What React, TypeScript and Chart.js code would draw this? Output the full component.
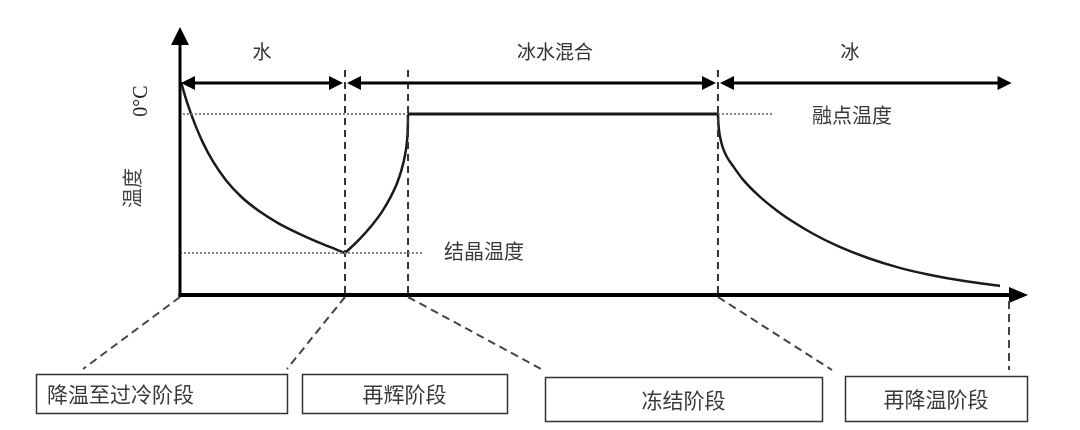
import React, { useEffect, useRef } from "react";
import { Chart, registerables } from "chart.js";
Chart.register(...registerables);

// ---- data (time in arbitrary units, temperature in °C-like units) ----
const coolTime = [0.12, 0.59, 1.18, 1.89, 2.71, 3.89, 5.42, 7.19, 9.32, 11.67, 14.27, 16.86, 19.46];
const coolTemp = [3.45, 1.97, 0.33, -1.39, -3.11, -5.11, -7.14, -8.9, -10.47, -11.82, -13.01, -14.05, -15.0];
const reheatTime = [19.46, 21.18, 22.63, 23.85, 24.81, 25.58, 26.13, 26.52, 26.76, 26.86, 26.89];
const reheatTemp = [-15.0, -13.5, -12.0, -10.5, -9.0, -7.5, -6.0, -4.5, -3.0, -1.5, 0];
const freezeTime = [26.89, 63.44];
const freezeTemp = [0, 0];
const recoolTime = [63.44, 63.48, 63.56, 63.74, 64.03, 64.5, 65.21, 66.39, 68.4, 70.52, 72.29, 74.65, 77.59, 81.13, 84.67, 88.21, 92.33, 96.7];
const recoolTemp = [0, -0.86, -1.73, -2.7, -3.67, -4.64, -5.61, -7.08, -8.94, -10.51, -11.63, -12.92, -14.26, -15.54, -16.55, -17.31, -18.0, -18.55];

const phaseBounds = [19.46, 26.89, 63.44];
const meltTemp = 0;
const crystTemp = -15;
const meltLineSpans = [[0.35, 26.89], [63.44, 69.9]];
const crystLineSpan = [0, 28.66];
const dividerTop = 4.75;
const timeMin = 0;
const timeMax = 100;
const tempMin = -19.53;
const tempMax = 9.39;
const arrowEndTime = 98.3;
const lastTickTime = 97.76;

const phaseLabels = ["水", "冰水混合", "冰"];
const stageLabels = ["降温至过冷阶段", "再辉阶段", "冻结阶段", "再降温阶段"];
const refLabels = ["融点温度", "结晶温度"];
const axisLabels = ["0°C", "温度"];

const pts = (xs: number[], ys: number[]) => xs.map((x, i) => ({ x, y: ys[i] }));

const CJK = '"Noto Sans CJK SC", "Noto Sans", sans-serif';

const decor = {
  id: "decor",
  afterDatasetsDraw(chart: any) {
    const ctx: CanvasRenderingContext2D = chart.ctx;
    const xs = chart.scales.x;
    const ys = chart.scales.y;
    const X = (v: number) => xs.getPixelForValue(v);
    const Y = (v: number) => ys.getPixelForValue(v);
    const x0 = X(timeMin);
    const xR = X(timeMax);
    const yB = Y(tempMin);
    const yT = Y(tempMax);

    const line = (a: number, b: number, c: number, d: number) => {
      ctx.beginPath();
      ctx.moveTo(a, b);
      ctx.lineTo(c, d);
      ctx.stroke();
    };
    const tri = (p: number[][]) => {
      ctx.beginPath();
      ctx.moveTo(p[0][0], p[0][1]);
      ctx.lineTo(p[1][0], p[1][1]);
      ctx.lineTo(p[2][0], p[2][1]);
      ctx.closePath();
      ctx.fill();
    };

    ctx.save();
    ctx.strokeStyle = "#000";
    ctx.fillStyle = "#000";
    ctx.setLineDash([]);
    // y axis
    ctx.lineWidth = 3;
    line(x0, yB + 2, x0, yT + 16);
    tri([[x0, yT], [x0 - 9, yT + 18], [x0 + 9, yT + 18]]);
    // x axis
    ctx.lineWidth = 4;
    line(x0 - 1.5, yB, xR - 16, yB);
    tri([[xR, yB], [xR - 19, yB - 8], [xR - 19, yB + 8]]);

    // top phase arrows
    const ay = 83;
    const segs = [
      [x0, X(phaseBounds[0])],
      [X(phaseBounds[0]), X(phaseBounds[2])],
      [X(phaseBounds[2]), X(arrowEndTime)],
    ];
    ctx.lineWidth = 3;
    segs.forEach(([a, b], i) => {
      const l = i === 0 ? a + 1 : a + 2;
      const r = b - 2;
      line(l + 10, ay, r - 10, ay);
      tri([[l, ay], [l + 14, ay - 7], [l + 14, ay + 7]]);
      tri([[r, ay], [r - 14, ay - 7], [r - 14, ay + 7]]);
    });

    // bottom connectors
    ctx.strokeStyle = "#444";
    ctx.lineWidth = 2;
    ctx.setLineDash([8, 5]);
    const by = yB + 2;
    line(x0, by, 83, 369);
    line(X(phaseBounds[0]), by, 287, 369);
    line(X(phaseBounds[1]), by, 543, 370);
    line(X(phaseBounds[2]), by, 832, 370);
    line(X(lastTickTime), yB + 6, X(lastTickTime), 370);
    ctx.setLineDash([]);

    // boxes
    const boxes = [
      [36, 374, 251, 39, "left"],
      [302, 374, 205, 39, "center"],
      [545, 377, 277, 44, "center"],
      [845, 376, 182, 45, "center"],
    ] as any[];
    ctx.strokeStyle = "#333";
    ctx.lineWidth = 1.5;
    ctx.fillStyle = "#3a3a3a";
    ctx.font = `21px ${CJK}`;
    ctx.textBaseline = "middle";
    boxes.forEach(([bx, byy, bw, bh, al], i) => {
      ctx.strokeRect(bx + 0.5, byy + 0.5, bw, bh);
      if (al === "left") {
        ctx.textAlign = "left";
        ctx.fillText(stageLabels[i], bx + 11, byy + bh / 2 + 1);
      } else {
        ctx.textAlign = "center";
        ctx.fillText(stageLabels[i], bx + bw / 2, byy + bh / 2 + 1);
      }
    });

    // phase labels
    ctx.fillStyle = "#333";
    ctx.textAlign = "center";
    ctx.font = `19px ${CJK}`;
    ctx.fillText(phaseLabels[0], 262, 52);
    ctx.fillText(phaseLabels[1], 555, 52);
    ctx.fillText(phaseLabels[2], 850, 52);

    // reference labels
    ctx.font = `20px ${CJK}`;
    ctx.fillStyle = "#3a3a3a";
    ctx.fillText(refLabels[0], 852, Y(meltTemp) + 1);
    ctx.fillText(refLabels[1], 484, Y(crystTemp) - 2);

    // axis labels (rotated)
    ctx.save();
    ctx.translate(142, 101);
    ctx.rotate(-Math.PI / 2);
    ctx.font = `20px "Liberation Serif", serif`;
    ctx.fillStyle = "#222";
    ctx.fillText(axisLabels[0], 0, 0);
    ctx.restore();
    ctx.save();
    ctx.translate(132, 188);
    ctx.rotate(-Math.PI / 2);
    ctx.font = `20px ${CJK}`;
    ctx.fillStyle = "#444";
    ctx.fillText(axisLabels[1], 0, 0);
    ctx.restore();

    ctx.restore();
  },
};

export default function App() {
  const ref = useRef<HTMLCanvasElement>(null);
  useEffect(() => {
    if (!ref.current) return;
    const curve = {
      borderColor: "#1a1a1a",
      borderWidth: 2.5,
      pointRadius: 0,
      cubicInterpolationMode: "monotone" as const,
      fill: false,
    };
    const dotted = {
      borderColor: "#777",
      borderWidth: 1.8,
      borderDash: [2, 2],
      pointRadius: 0,
      fill: false,
    };
    const dashed = {
      borderColor: "#333",
      borderWidth: 2,
      borderDash: [7, 5],
      pointRadius: 0,
      fill: false,
    };
    const datasets: any[] = [
      ...meltLineSpans.map((s) => ({ ...dotted, data: pts(s, [meltTemp, meltTemp]) })),
      { ...dotted, data: pts(crystLineSpan, [crystTemp, crystTemp]) },
      ...phaseBounds.map((b) => ({ ...dashed, data: pts([b, b], [dividerTop, tempMin]) })),
      { ...curve, data: pts(coolTime, coolTemp) },
      { ...curve, data: pts(reheatTime, reheatTemp) },
      { ...curve, borderWidth: 3, data: pts(freezeTime, freezeTemp) },
      { ...curve, data: pts(recoolTime, recoolTemp) },
    ];
    const chart = new Chart(ref.current, {
      type: "line",
      data: { datasets },
      options: {
        responsive: false,
        animation: false,
        devicePixelRatio: 1,
        layout: { padding: { left: 180, right: 52, top: 27, bottom: 135 } },
        plugins: { legend: { display: false }, tooltip: { enabled: false } },
        scales: {
          x: { type: "linear", min: timeMin, max: timeMax, display: false },
          y: { type: "linear", min: tempMin, max: tempMax, display: false },
        },
      },
      plugins: [decor],
    });
    return () => chart.destroy();
  }, []);
  return (
    <div style={{ position: "absolute", left: 0, top: 0, width: 1080, height: 430, background: "#fff" }}>
      <canvas ref={ref} width={1080} height={430} />
    </div>
  );
}
